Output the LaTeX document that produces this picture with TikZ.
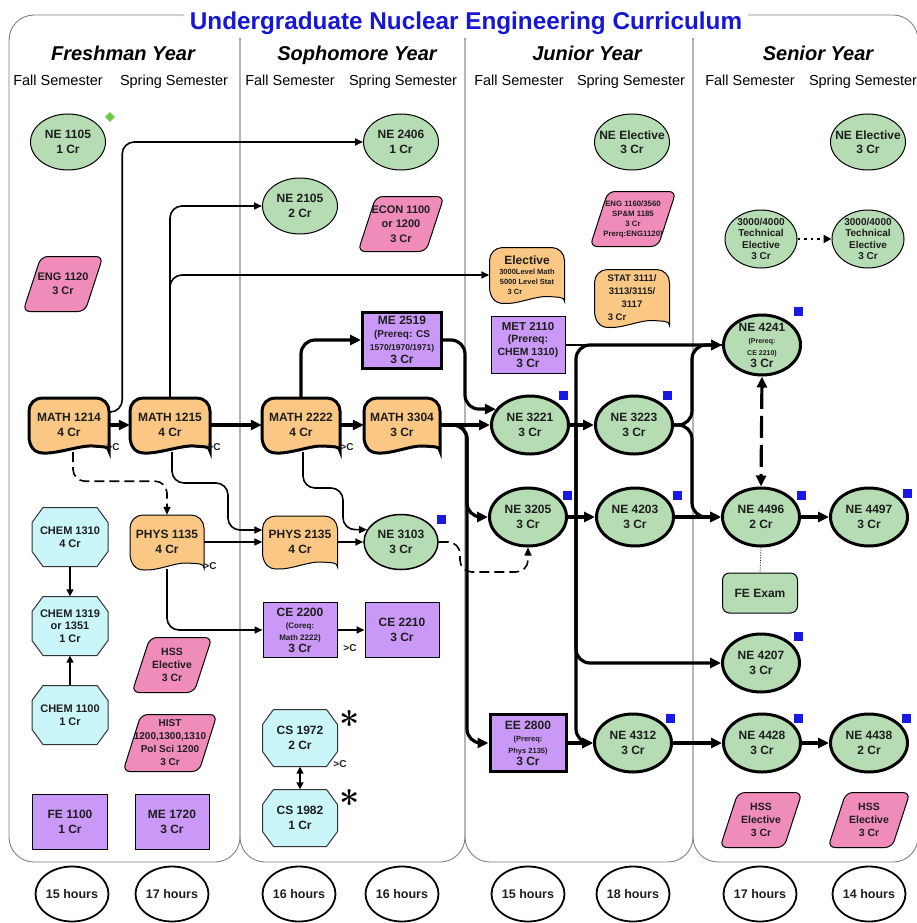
\documentclass[tikz,border=0pt]{standalone}
\usepackage{fontspec}
\newfontfamily\af{Liberation Sans}
\usetikzlibrary{shapes.geometric,arrows.meta,calc}
\definecolor{gfill}{RGB}{182,220,180}
\definecolor{ofill}{RGB}{250,200,132}
\definecolor{pkfill}{RGB}{240,140,186}
\definecolor{pufill}{RGB}{202,152,246}
\definecolor{cyfill}{RGB}{202,246,250}
\definecolor{sqblue}{RGB}{25,25,230}
\definecolor{titleblue}{RGB}{22,22,215}
\definecolor{tcol}{RGB}{30,30,30}
\definecolor{panelc}{RGB}{130,130,130}
\newcommand\fz[2]{\fontsize{#1}{#2}\selectfont}
\tikzset{
  txt/.style={font=\af\bfseries\fz{12}{14.5}, align=center, inner sep=0pt, text=tcol},
  fsz/.style 2 args={font=\af\bfseries\fz{#1}{#2}},
  box/.style={rectangle, draw=none, inner sep=0pt},
  ellG/.style={ellipse, draw=black, fill=gfill, line width=1pt, minimum width=75pt, minimum height=56pt, inner sep=0pt},
  ellT/.style={ellG, line width=3pt, minimum width=77pt, minimum height=58pt},
  pbox/.style={rectangle, draw=black, fill=pufill, line width=1pt, minimum width=74pt, minimum height=55pt, inner sep=0pt},
  fexam/.style={rectangle, rounded corners=7pt, draw=black, fill=gfill, line width=1pt, minimum width=75pt, minimum height=40pt, inner sep=0pt},
  hrs/.style={ellipse, draw=black, fill=white, line width=1.8pt, minimum width=73pt, minimum height=55pt, inner sep=0pt},
  pinkshape/.style={draw=black, fill=pkfill, line width=1pt, rounded corners=7pt},
  octshape/.style={draw=black!80, fill=cyfill, line width=1pt},
  panel/.style={draw=panelc, line width=0.9pt, rounded corners=25pt},
  bsq/.style={rectangle, fill=sqblue, minimum size=9pt, inner sep=0pt},
  gt/.style={font=\af\bfseries\fz{10}{12}, text=tcol, inner sep=0pt},
  semf/.style={font=\af\fz{14.5}{17}, inner sep=0pt},
  yearf/.style={font=\af\bfseries\itshape\fz{20}{24}, inner sep=0pt},
  thinc/.style={line width=1.6pt, -{Triangle[length=8pt,width=7pt]}, rounded corners=12pt},
  thickc/.style={line width=3.2pt, -{Triangle[length=11pt,width=10pt]}, rounded corners=14pt},
  medc/.style={line width=1.6pt, -{Triangle[length=7pt,width=7pt]}},
}
% course node: [text options], style, name, x, y, text
\newcommand\course[6][]{\node[#2] (#3) at (#4,#5) {};\node[txt,#1] (#3-t) at (#3.center) {#6};}
% orange blob: [text options], name, x, y, w, h, line width, text
\newcommand\blob[8][]{%
  \begin{scope}[shift={(#3,#4)}]
    \pgfmathsetmacro\hwA{#5/2}\pgfmathsetmacro\hhB{#6/2}
    \draw[line width=#7, fill=ofill, draw=black] (-\hwA,0) [rounded corners=13pt] -- (-\hwA,-\hhB) -- (\hwA,-\hhB) -- (\hwA,\hhB-14) [sharp corners]
      .. controls (\hwA,\hhB-6) and (\hwA-6,\hhB-5) .. (\hwA-16,\hhB-6)
      .. controls (\hwA-28,\hhB-7) and (-\hwA+28,\hhB+2) .. (-\hwA+14,\hhB+1)
      .. controls (-\hwA+5,\hhB+1) and (-\hwA,\hhB-6) .. (-\hwA,\hhB-16) -- cycle;
  \end{scope}
  \node[box, minimum width=#5pt, minimum height=#6pt] (#2) at (#3,#4) {};
  \node[txt,#1] (#2-t) at (#2.center) {#8};}
% pink parallelogram: [text options], name, x, y, w, h, text
\newcommand\para[7][]{%
  \begin{scope}[shift={(#3,#4)}]
    \pgfmathsetmacro\hwA{#5/2}\pgfmathsetmacro\hhB{#6/2}
    \draw[pinkshape] (-\hwA+18,-\hhB) -- (\hwA,-\hhB) -- (\hwA-18,\hhB) -- (-\hwA,\hhB) -- cycle;
  \end{scope}
  \node[box, minimum width=#5pt, minimum height=#6pt] (#2) at (#3,#4) {};
  \node[txt,#1] (#2-t) at (#2.center) {#7};}
% cyan octagon: [text options], name, x, y, w, h, text
\newcommand\octa[7][]{%
  \begin{scope}[shift={(#3,#4)}]
    \pgfmathsetmacro\hwA{#5/2}\pgfmathsetmacro\hhB{#6/2}
    \draw[octshape] (-\hwA+11,-\hhB) -- (\hwA-11,-\hhB) -- (\hwA,-\hhB+15) -- (\hwA,\hhB-15) -- (\hwA-11,\hhB) -- (-\hwA+11,\hhB) -- (-\hwA,\hhB-15) -- (-\hwA,-\hhB+15) -- cycle;
  \end{scope}
  \node[box, minimum width=#5pt, minimum height=#6pt] (#2) at (#3,#4) {};
  \node[txt,#1] (#2-t) at (#2.center) {#7};}
\begin{document}
\begin{tikzpicture}[x=1pt,y=-1pt]
\useasboundingbox (0,0) rectangle (916,923);
\fill[white] (0,0) rectangle (916,923);
% panels
\draw[panel] (9,15) rectangle (240,862);
\draw[panel] (240,15) rectangle (465,862);
\draw[panel] (465,15) rectangle (693,862);
\draw[panel] (693,15) rectangle (918,862);
% title
\node[font=\af\bfseries\fz{24.3}{28}, text=titleblue, fill=white, inner xsep=6pt, inner ysep=3pt, anchor=base] (title) at (466,30) {Undergraduate Nuclear Engineering Curriculum};
% headings
\node[yearf, anchor=base] (yr1) at (123,61) {Freshman Year};
\node[yearf, anchor=base] (yr2) at (357,61) {Sophomore Year};
\node[yearf, anchor=base] (yr3) at (587,61) {Junior Year};
\node[yearf, anchor=base] (yr4) at (818,61) {Senior Year};
\node[semf, anchor=base] (s1) at (58,86) {Fall Semester};
\node[semf, anchor=base] (s2) at (174,86) {Spring Semester};
\node[semf, anchor=base] (s3) at (290,86) {Fall Semester};
\node[semf, anchor=base] (s4) at (403,86) {Spring Semester};
\node[semf, anchor=base] (s5) at (519,86) {Fall Semester};
\node[semf, anchor=base] (s6) at (631,86) {Spring Semester};
\node[semf, anchor=base] (s7) at (750,86) {Fall Semester};
\node[semf, anchor=base] (s8) at (863,86) {Spring Semester};

% ---- row 1
\course{ellG}{n1105}{68}{142}{NE 1105\\1 Cr}
\node[diamond, fill={rgb,255:red,110;green,200;blue,70}, minimum width=10pt, minimum height=10pt, inner sep=0pt] (gd) at (110,117) {};
\course{ellG}{n2406}{401}{142}{NE 2406\\1 Cr}
\course{ellG}{nel1}{632}{142}{NE Elective\\3 Cr}
\course{ellG}{nel2}{868}{142}{NE Elective\\3 Cr}
\course{ellG}{n2105}{300}{206}{NE 2105\\2 Cr}
\para[fsz={11}{14.5}]{econ}{401}{224}{86}{55}{ECON 1100\\or 1200\\3 Cr}
\para[fsz={7.8}{10}]{eng1160}{633}{219}{86}{55}{ENG 1160/3560\\SP\&M 1185\\3 Cr\\Prerq:ENG1120)}
\para[fsz={11}{14}]{eng1120}{63}{284}{80}{55}{ENG 1120\\3 Cr}
\course[fsz={10}{11.5}]{ellG, minimum width=72pt, minimum height=58pt}{te1}{761}{239}{3000/4000\\Technical\\Elective\\3 Cr}
\course[fsz={10}{11.5}]{ellG, minimum width=72pt, minimum height=58pt}{te2}{868}{239}{3000/4000\\Technical\\Elective\\3 Cr}
\blob[fsz={7.5}{10}]{elec}{527}{275}{75}{55}{1pt}{\fz{12}{13}Elective\\3000Level Math\\5000 Level Stat\\3 Cr\hspace*{24pt}}
\blob[fsz={9.5}{13}]{stat}{632}{298}{75}{57}{1pt}{STAT 3111/\\3113/3115/\\3117\\3 Cr\hspace*{30pt}}
\course[fsz={12}{13}]{pbox, minimum width=79pt, minimum height=56pt, line width=3pt}{me2519}{402}{340}{ME 2519\\\fz{10}{13}(Prereq: CS\\\fz{8.5}{13}1570/1970/1971)\\3 Cr}
\course[fsz={10.5}{12.5}]{pbox, minimum height=57pt}{met2110}{528}{345}{\fz{11.5}{12.5}MET 2110\\(Prereq:\\CHEM 1310)\\\fz{12}{12.5}3 Cr}
\course[fsz={12}{12}]{ellT, minimum height=60pt}{n4241}{762}{345}{NE 4241\\\fz{7}{10}(Prereq:\\\fz{7}{10}CE 2210)\\3 Cr}

% ---- main row
\blob{m1214}{69}{425}{80}{54}{3pt}{MATH 1214\\4 Cr}
\blob{m1215}{170}{425}{80}{54}{3pt}{MATH 1215\\4 Cr}
\blob{m2222}{301}{425}{78}{54}{3pt}{MATH 2222\\4 Cr}
\blob{m3304}{402}{425}{76}{54}{3pt}{MATH 3304\\3 Cr}
\course{ellT}{n3221}{530}{425}{NE 3221\\3 Cr}
\course{ellT}{n3223}{634}{425}{NE 3223\\3 Cr}

% ---- row 2
\octa[fsz={11}{13.5}]{chem1310}{70}{537}{76}{59}{CHEM 1310\\4 Cr}
\blob{p1135}{167}{542}{74}{54}{1pt}{PHYS 1135\\4 Cr}
\blob{p2135}{300}{542}{75}{52}{1pt}{PHYS 2135\\4 Cr}
\course{ellG, minimum width=74pt, minimum height=55pt, line width=1.5pt}{n3103}{401}{542}{NE 3103\\3 Cr}
\course{ellT}{n3205}{528}{517}{NE 3205\\3 Cr}
\course{ellT}{n4203}{635}{517}{NE 4203\\3 Cr}
\course{ellT}{n4496}{761}{517}{NE 4496\\2 Cr}
\course{ellT}{n4497}{869}{517}{NE 4497\\3 Cr}
\course{fexam}{fe}{760}{593}{FE Exam}

% ---- row 3
\octa[fsz={11}{12.5}]{chem1319}{70}{626}{76}{59}{CHEM 1319\\or 1351\\1 Cr}
\course[fsz={12}{12}]{pbox}{ce2200}{300}{630}{CE 2200\\\fz{8}{11}(Coreq:\\\fz{8}{11}Math 2222)\\3 Cr}
\course{pbox}{ce2210}{402}{630}{CE 2210\\3 Cr}
\para[fsz={10.5}{13}]{hss1}{172}{665}{80}{55}{HSS\\Elective\\3 Cr}
\course{ellT}{n4207}{761}{663}{NE 4207\\3 Cr}

% ---- row 4
\octa[fsz={11}{13.5}]{chem1100}{70}{715}{76}{59}{CHEM 1100\\1 Cr}
\para[fsz={10}{13}]{hist}{170}{743}{94}{57}{HIST\\1200,1300,1310\\Pol Sci 1200\\3 Cr}
\octa{cs1972}{300}{738}{75}{57}{CS 1972\\2 Cr}
\octa{cs1982}{300}{818}{75}{57}{CS 1982\\1 Cr}
\course[fsz={12}{12}]{pbox, line width=3pt, minimum width=76pt, minimum height=57pt}{ee2800}{528}{743}{EE 2800\\\fz{7.5}{11}(Prereq:\\\fz{7.5}{11}Phys 2135)\\3 Cr}
\course{ellT}{n4312}{633}{743}{NE 4312\\3 Cr}
\course{ellT}{n4428}{762}{743}{NE 4428\\3 Cr}
\course{ellT}{n4438}{869}{743}{NE 4438\\2 Cr}

% ---- row 5
\course{pbox, minimum width=75pt}{fe1100}{70}{822}{FE 1100\\1 Cr}
\course{pbox}{me1720}{172}{822}{ME 1720\\3 Cr}
\para[fsz={10.5}{13}]{hss2}{761}{820}{82}{55}{HSS\\Elective\\3 Cr}
\para[fsz={10.5}{13}]{hss3}{869}{820}{82}{55}{HSS\\Elective\\3 Cr}

% ---- hours
\course[fsz={12.5}{14}]{hrs}{h1}{72}{894}{15 hours}
\course[fsz={12.5}{14}]{hrs}{h2}{172}{894}{17 hours}
\course[fsz={12.5}{14}]{hrs}{h3}{299}{894}{16 hours}
\course[fsz={12.5}{14}]{hrs}{h4}{402}{894}{16 hours}
\course[fsz={12.5}{14}]{hrs}{h5}{528}{894}{15 hours}
\course[fsz={12.5}{14}]{hrs}{h6}{633}{894}{18 hours}
\course[fsz={12.5}{14}]{hrs}{h7}{760}{894}{17 hours}
\course[fsz={12.5}{14}]{hrs}{h8}{869}{894}{14 hours}

% ---- blue squares
\node[bsq] (q1) at (563,395) {};
\node[bsq] (q2) at (667,395) {};
\node[bsq] (q3) at (798,311) {};
\node[bsq] (q4) at (441,519) {};
\node[bsq] (q5) at (567,495) {};
\node[bsq] (q6) at (677,495) {};
\node[bsq] (q7) at (801,495) {};
\node[bsq] (q8) at (907,493) {};
\node[bsq] (q9) at (798,636) {};
\node[bsq] (q10) at (670,718) {};
\node[bsq] (q11) at (798,718) {};
\node[bsq] (q12) at (906,718) {};

% ---- >C labels and asterisks
\node[gt] (c1) at (113,447) {>C};
\node[gt] (c2) at (214,447) {>C};
\node[gt] (c3) at (347,447) {>C};
\node[gt] (c4) at (210,566) {>C};
\node[gt] (c5) at (350,648) {>C};
\node[gt] (c6) at (340,764) {>C};
\node[font=\bfseries\fz{36}{36}, inner sep=0pt, anchor=base] (ast1) at (350,737) {*};
\node[font=\bfseries\fz{36}{36}, inner sep=0pt, anchor=base] (ast2) at (350,816) {*};

% ---- thin connectors
\draw[thinc] ([yshift=13pt]m1214.east) -- ++(13,0) |- (n2406.west);
\draw[thinc] (m1215.north) |- (n2105.west);
\draw[thinc] (m1215.north) |- (elec.west);
\draw[thinc] ([xshift=2pt]m1215.south) |- (228,483) |- ([yshift=12pt]p2135.west);
\draw[thinc] (p1135.east) -- (p2135.west);
\draw[thinc] (p1135.south) |- (ce2200.west);
\draw[thinc, dash pattern=on 10pt off 5pt] ([xshift=4pt]m1214.south) -- ++(0,29) -| (p1135.north);
\draw[thinc] ([xshift=2pt]m2222.south) |- (343,488) |- (n3103.160);
\draw[thinc] (p2135.east) -- (n3103.west);
\draw[thinc] (ce2200.east) -- (ce2210.west);
\draw[medc] (chem1310.south) -- (chem1319.north);
\draw[medc] (chem1100.north) -- (chem1319.south);
\draw[medc, {Triangle[length=7pt,width=7pt]}-{Triangle[length=7pt,width=7pt]}] (cs1972.south) -- (cs1982.north);
\draw[thinc, dash pattern=on 10pt off 5pt] (n3103.east) -| (460,572) -| (n3205.south);
\draw[line width=2pt, dash pattern=on 2.5pt off 4pt, -{Triangle[length=8pt,width=8pt]}] (te1.east) -- (te2.west);
\draw[line width=0.7pt, dash pattern=on 1pt off 1.5pt] (n4496.south) -- (fe.north);
\draw[line width=1.3pt] (met2110.east) -- (n4241.west);

% ---- thick connectors
\draw[thickc] (m1214.east) -- (m1215.west);
\draw[thickc] (m1215.east) -- (m2222.west);
\draw[thickc] (m2222.east) -- (m3304.west);
\draw[thickc] (m2222.north) |- (me2519.west);
\coordinate (jA) at (465,0);
\coordinate (jB) at (467,0);
\coordinate (jC) at (576,0);
\coordinate (jD) at (692,0);
\draw[thickc] (me2519.east) -| (jA |- n3221.155) -- (n3221.155);
\draw[thickc] (m3304.east) -- (n3221.west);
\draw[thickc] (m3304.east) -| (jB |- ee2800.west) -- (ee2800.west);
\draw[thickc] (m3304.east) -| (jB |- n3205.west) -- (n3205.west);
\draw[thickc] (n3221.east) -- (n3223.west);
\draw[thickc] (jC |- n3221.east) |- (n4241.west);
\draw[thickc] (jC |- n3221.east) |- (n4207.west);
\draw[thickc] (jC |- n3221.east) |- (n4312.west);
\draw[thickc] (ee2800.east) -- (n4312.west);
\draw[thickc] (n3223.east) -| (jD |- n4241.west) -- (n4241.west);
\draw[thickc] (n3223.east) -| (jD |- n4496.west) -- (n4496.west);
\draw[thickc] (n3205.east) -- (n4203.west);
\draw[thickc] (n4203.east) -- (n4496.west);
\draw[thickc] (n4496.east) -- (n4497.west);
\draw[thickc, dash pattern=on 22pt off 7pt, {Triangle[length=11pt,width=10pt]}-{Triangle[length=11pt,width=10pt]}] (n4241.south) -- (n4496.north);
\draw[thickc] (n4312.east) -- (n4428.west);
\draw[thickc] (n4428.east) -- (n4438.west);
\end{tikzpicture}
\end{document}
